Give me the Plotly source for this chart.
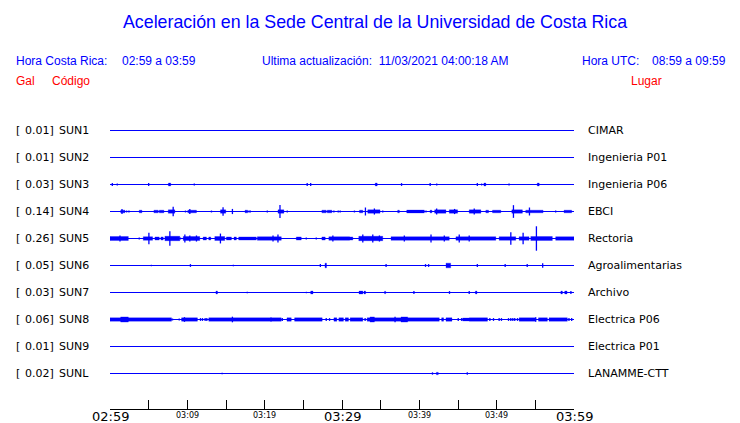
import plotly.graph_objects as go

# ---------------- data ----------------
codes = ["SUN1", "SUN2", "SUN3", "SUN4", "SUN5", "SUN6", "SUN7", "SUN8", "SUN9", "SUNL"]
places = ["CIMAR", "Ingenieria P01", "Ingenieria P06", "EBCI", "Rectoria",
          "Agroalimentarias", "Archivo", "Electrica P06", "Electrica P01", "LANAMME-CTT"]
max_gal = ["0.01", "0.01", "0.03", "0.14", "0.26", "0.05", "0.03", "0.06", "0.01", "0.02"]

time_ticks = list(range(0, 61, 10))
time_tick_labels = ["02:59", "03:09", "03:19", "03:29", "03:39", "03:49", "03:59"]

# bursts: (start minute, end minute, half amplitude in gal)
bursts_SUN1 = []
bursts_SUN2 = []
bursts_SUN3 = [(7.55, 7.85, 0.03), (34.3, 34.55, 0.03), (48.35, 48.6, 0.03), (55.25, 55.5, 0.03)]
bursts_SUN4 = [(1.38, 1.94, 0.028), (3.78, 4.13, 0.028), (5.68, 6.24, 0.028), (6.37, 6.97, 0.028),
               (7.53, 8.39, 0.035), (10.06, 11.18, 0.028), (14.28, 14.97, 0.035), (17.46, 17.81, 0.028),
               (21.72, 22.49, 0.035), (27.40, 27.96, 0.028), (28.09, 28.69, 0.028), (32.26, 32.69, 0.028),
               (33.33, 34.92, 0.035), (37.20, 37.42, 0.028), (38.37, 40.65, 0.03), (41.38, 41.63, 0.028),
               (41.98, 43.44, 0.035), (43.87, 44.95, 0.035), (46.45, 47.96, 0.035), (48.60, 48.95, 0.028),
               (49.46, 50.54, 0.028), (51.96, 53.33, 0.035), (53.76, 56.00, 0.028), (58.71, 59.70, 0.028)]
bursts_SUN5 = [(0.0, 2.37, 0.042), (4.30, 5.51, 0.038), (5.81, 6.37, 0.033), (6.58, 6.88, 0.033),
               (7.10, 9.03, 0.047), (9.46, 11.61, 0.042), (12.04, 12.47, 0.033), (12.77, 13.03, 0.033),
               (13.55, 14.84, 0.042), (15.05, 15.70, 0.033), (16.04, 16.34, 0.033), (16.64, 18.92, 0.033),
               (19.05, 22.15, 0.038), (24.09, 24.73, 0.033), (27.40, 27.83, 0.033), (28.30, 30.97, 0.038),
               (30.97, 31.40, 0.033), (32.17, 35.27, 0.047), (36.34, 43.87, 0.038), (44.73, 49.89, 0.038),
               (50.32, 52.47, 0.038), (52.90, 54.19, 0.038), (54.41, 57.20, 0.042), (57.63, 60.0, 0.038)]
bursts_SUN6 = [(27.8, 28.0, 0.05), (43.45, 44.05, 0.05)]
bursts_SUN7 = [(13.7, 13.9, 0.03), (25.95, 26.25, 0.03), (32.2, 32.7, 0.03), (32.85, 33.05, 0.03),
               (35.5, 35.65, 0.025), (47.25, 47.45, 0.03), (58.3, 58.5, 0.03), (58.8, 59.1, 0.03)]
bursts_SUN8 = [(0.0, 7.96, 0.035), (1.38, 2.37, 0.055), (9.25, 11.31, 0.035), (12.77, 22.15, 0.035),
               (22.88, 23.44, 0.035), (23.87, 27.44, 0.035), (28.95, 29.33, 0.035), (29.59, 30.19, 0.035),
               (30.41, 30.84, 0.035), (31.05, 32.69, 0.035), (33.25, 42.58, 0.035), (33.63, 34.19, 0.055),
               (37.63, 38.49, 0.055), (42.88, 43.14, 0.035), (43.44, 44.22, 0.035), (45.59, 46.45, 0.03),
               (46.45, 48.82, 0.035), (52.90, 55.05, 0.035), (55.40, 56.56, 0.035), (56.77, 59.14, 0.035)]
bursts_SUN9 = []
bursts_SUNL = [(42.2, 42.45, 0.025)]

# spikes: (minute, half amplitude in gal)
spikes_SUN1 = []
spikes_SUN2 = []
spikes_SUN3 = [(0.30, 0.03), (0.94, 0.02), (5.0, 0.03), (10.9, 0.02), (25.5, 0.03), (25.95, 0.03),
               (37.7, 0.03), (41.4, 0.03), (42.25, 0.02), (47.5, 0.03), (48.05, 0.02), (51.6, 0.02)]
spikes_SUN4 = [(1.55, 0.055), (2.15, 0.02), (2.45, 0.02), (8.17, 0.10), (9.76, 0.02), (10.32, 0.055),
               (13.12, 0.02), (14.62, 0.09), (15.83, 0.055), (17.98, 0.02), (18.15, 0.02), (20.34, 0.02),
               (21.98, 0.14), (22.92, 0.02), (28.95, 0.02), (29.51, 0.02), (29.76, 0.02), (31.61, 0.02),
               (33.03, 0.085), (34.19, 0.065), (35.27, 0.02), (40.86, 0.02), (42.24, 0.065), (44.56, 0.055),
               (47.10, 0.065), (52.17, 0.135), (54.24, 0.085), (57.63, 0.02)]
spikes_SUN5 = [(1.29, 0.065), (3.78, 0.02), (5.03, 0.12), (7.74, 0.155), (9.12, 0.02), (9.68, 0.085),
               (10.32, 0.065), (11.18, 0.065), (14.28, 0.105), (21.08, 0.065), (21.72, 0.085),
               (25.38, 0.02), (26.67, 0.02), (28.82, 0.065), (32.69, 0.085), (33.98, 0.085),
               (34.84, 0.065), (38.06, 0.065), (41.51, 0.085), (43.23, 0.065), (45.16, 0.085),
               (46.45, 0.065), (51.83, 0.135), (53.42, 0.12), (55.14, 0.26)]
spikes_SUN6 = [(5.35, 0.015), (10.4, 0.03), (15.95, 0.015), (27.2, 0.03), (35.7, 0.03), (40.8, 0.03),
               (41.2, 0.03), (47.5, 0.03), (51.1, 0.03), (53.95, 0.03), (55.95, 0.05)]
spikes_SUN7 = [(17.75, 0.015), (25.4, 0.015), (39.3, 0.03), (43.9, 0.03), (46.45, 0.03), (59.6, 0.03)]
spikes_SUN8 = [(8.09, 0.02), (8.95, 0.02), (9.63, 0.05), (11.70, 0.03), (11.96, 0.03), (12.30, 0.03),
               (12.52, 0.03), (15.83, 0.06), (20.82, 0.045), (22.28, 0.03), (27.96, 0.03), (28.39, 0.03),
               (32.99, 0.03), (36.86, 0.06), (39.70, 0.03), (45.03, 0.03), (45.46, 0.03), (49.12, 0.03),
               (49.59, 0.03), (50.32, 0.03), (50.62, 0.03), (51.53, 0.03), (51.83, 0.03), (52.09, 0.03),
               (52.34, 0.03), (52.69, 0.03), (55.05, 0.05), (59.35, 0.03), (59.70, 0.03)]
spikes_SUN9 = []
spikes_SUNL = [(14.5, 0.015), (41.7, 0.025), (46.2, 0.025)]

bursts = [bursts_SUN1, bursts_SUN2, bursts_SUN3, bursts_SUN4, bursts_SUN5,
          bursts_SUN6, bursts_SUN7, bursts_SUN8, bursts_SUN9, bursts_SUNL]
spikes = [spikes_SUN1, spikes_SUN2, spikes_SUN3, spikes_SUN4, spikes_SUN5,
          spikes_SUN6, spikes_SUN7, spikes_SUN8, spikes_SUN9, spikes_SUNL]

# ---------------- layout geometry ----------------
W, H = 740, 423
X0, X1 = 110, 574          # plot area in pixels
Y0, Y1 = 100, 409
ROW_PX = 27
FIRST_ROW_PX = 130.5
GAL_PX = 47                # pixels per gal
K = GAL_PX / ROW_PX        # row units per gal

BLUE = "#0000ff"
RED = "#ff0000"


def px_x(px):
    return (px - X0) / (X1 - X0)


def px_y(py):
    return (Y1 - py) / (Y1 - Y0)


fig = go.Figure()

for i, code in enumerate(codes):
    fig.add_trace(go.Scatter(x=[0, 60], y=[i, i], mode="lines",
                             line=dict(color=BLUE, width=1.1), hoverinfo="skip"))
    bx, by = [], []
    for t0, t1, a in bursts[i]:
        lo, hi = i - a * K, i + a * K
        bx += [t0, t1, t1, t0, t0, None]
        by += [lo, lo, hi, hi, lo, None]
    if bx:
        fig.add_trace(go.Scatter(x=bx, y=by, mode="lines", fill="toself", fillcolor=BLUE,
                                 line=dict(color=BLUE, width=0.3), hoverinfo="skip"))
    sx, sy = [], []
    for t, a in spikes[i]:
        sx += [t, t, None]
        sy += [i - a * K, i + a * K, None]
    if sx:
        fig.add_trace(go.Scatter(x=sx, y=sy, mode="lines",
                                 line=dict(color=BLUE, width=1.3), hoverinfo="skip"))

ann = []
lab_font = dict(family="DejaVu Sans", size=11, color="black")
for i, code in enumerate(codes):
    yv = px_y(FIRST_ROW_PX + i * ROW_PX)
    ann.append(dict(x=px_x(14), y=yv, xref="paper", yref="paper", text="[", showarrow=False,
                    xanchor="left", yanchor="middle", font=lab_font))
    ann.append(dict(x=px_x(55.5), y=yv, xref="paper", yref="paper", text=max_gal[i] + "]",
                    showarrow=False, xanchor="right", yanchor="middle", font=lab_font))
    ann.append(dict(x=px_x(56.5), y=yv, xref="paper", yref="paper", text=code, showarrow=False,
                    xanchor="left", yanchor="middle", font=lab_font))
    ann.append(dict(x=px_x(586), y=yv, xref="paper", yref="paper", text=places[i], showarrow=False,
                    xanchor="left", yanchor="middle", font=lab_font))

for k, (tv, tl) in enumerate(zip(time_ticks, time_tick_labels)):
    big = k in (0, 3, 6)
    ann.append(dict(x=tv, y=px_y(416.5 if big else 415.5), xref="x", yref="paper", text=tl,
                    showarrow=False, xanchor="center", yanchor="middle",
                    font=dict(family="DejaVu Sans", size=13 if big else 8, color="black")))

hdr = dict(family="Liberation Sans", size=12, color=BLUE)
red = dict(family="Liberation Sans", size=12, color=RED)
ann += [
    dict(x=px_x(375), y=px_y(22), xref="paper", yref="paper", showarrow=False,
         text="Aceleración en la Sede Central de la Universidad de Costa Rica",
         xanchor="center", yanchor="middle", font=dict(family="Liberation Sans", size=17.8, color=BLUE)),
    dict(x=px_x(14), y=px_y(61), text="Hora Costa Rica:", font=hdr),
    dict(x=px_x(120), y=px_y(61), text="02:59 a 03:59", font=hdr),
    dict(x=px_x(260), y=px_y(61), text="Ultima actualización:  11/03/2021 04:00:18 AM", font=hdr),
    dict(x=px_x(580), y=px_y(61), text="Hora UTC:", font=hdr),
    dict(x=px_x(650), y=px_y(61), text="08:59 a 09:59", font=hdr),
    dict(x=px_x(14), y=px_y(81), text="Gal", font=red),
    dict(x=px_x(50), y=px_y(81), text="Código", font=red),
    dict(x=px_x(629), y=px_y(81), text="Lugar", font=red),
]
for a in ann[-8:]:
    a.update(xref="paper", yref="paper", showarrow=False, xanchor="left", yanchor="middle")

fig.update_layout(
    width=W, height=H,
    margin=dict(l=X0, r=W - X1, t=Y0, b=H - Y1, pad=0),
    paper_bgcolor="white", plot_bgcolor="white",
    showlegend=False,
    annotations=ann,
    xaxis=dict(range=[0, 60], showgrid=False, zeroline=False, showline=True, linecolor="black",
               linewidth=1, ticks="inside", ticklen=9, tickwidth=1, tickcolor="black",
               tickmode="linear", tick0=0, dtick=5, showticklabels=False, fixedrange=True),
    yaxis=dict(range=[9 + (Y1 - FIRST_ROW_PX - 9 * ROW_PX) / ROW_PX, -(FIRST_ROW_PX - Y0) / ROW_PX],
               visible=False, fixedrange=True),
)

fig.write_html("out.html", config={"displayModeBar": False},
               post_script="document.body.style.margin='0';document.body.style.overflow='hidden';")
